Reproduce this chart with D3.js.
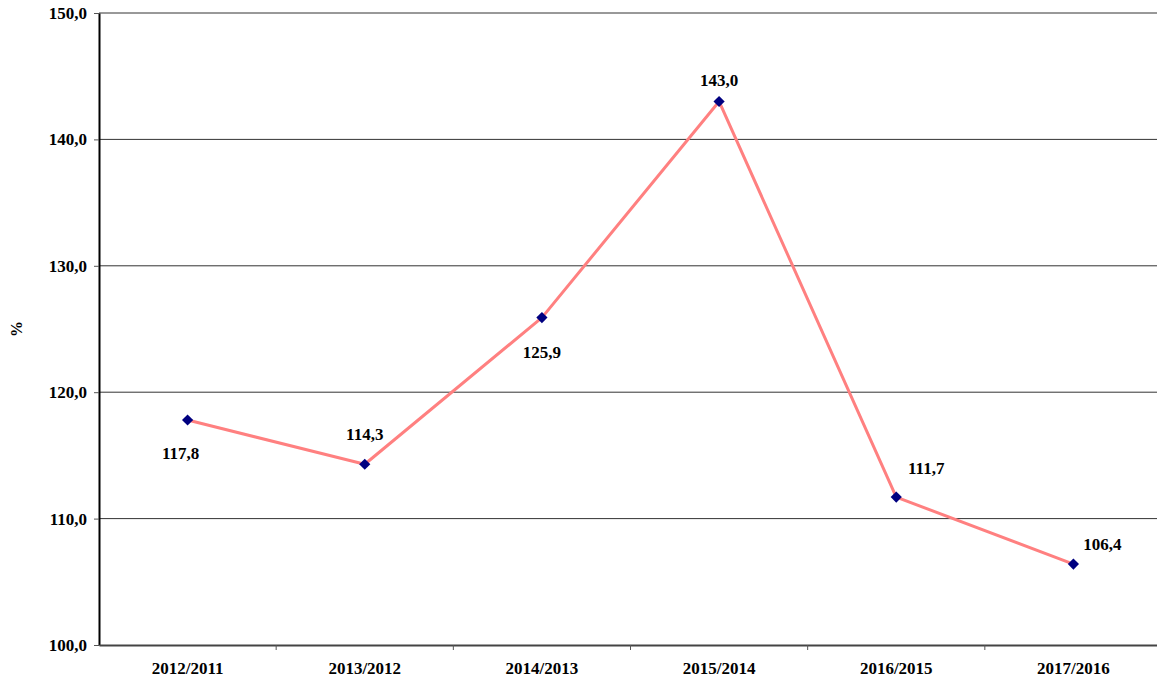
<!DOCTYPE html>
<html>
<head>
<meta charset="utf-8">
<script src="https://cdn.jsdelivr.net/npm/d3@7"></script>
<style>
  body { margin: 0; background: #fff; overflow: hidden; }
  svg { display: block; }
  text { font-family: "Liberation Serif", "Times New Roman", serif; font-weight: bold; }
</style>
</head>
<body>
<svg id="chart"></svg>
<script>
const categories = ['2012/2011', '2013/2012', '2014/2013', '2015/2014', '2016/2015', '2017/2016'];
const values = [117.8, 114.3, 125.9, 143.0, 111.7, 106.4];
const yTicks = [100, 110, 120, 130, 140, 150];
// label offsets relative to point (dx, dy)
const labelOffsets = [[-7, 33], [0, -30], [0, 34], [0, -21], [30, -29], [29, -20]];

const width = 1157;
const height = 684;
const margin = { top: 13, left: 99, bottom: 39, right: -5 };
const innerWidth = width - margin.left - margin.right;
const innerHeight = height - margin.top - margin.bottom;

const svg = d3.select('#chart')
  .attr('width', width)
  .attr('height', height);

const g = svg.append('g')
  .attr('transform', `translate(${margin.left}, ${margin.top})`);

const xScale = d3.scaleBand().domain(categories).range([0, innerWidth]);
const yScale = d3.scaleLinear().domain([100, 150]).range([innerHeight, 0]);
const fmt = d => d3.format('.1f')(d).replace('.', ',');

// gridlines
g.append('g')
  .selectAll('line')
  .data(yTicks.filter(d => d > 100))
  .join('line')
  .attr('x1', 0)
  .attr('x2', innerWidth)
  .attr('y1', d => yScale(d))
  .attr('y2', d => yScale(d))
  .attr('stroke', '#333')
  .attr('stroke-width', 1);

// y axis
const yAxis = g.append('g')
  .call(d3.axisLeft(yScale)
          .tickValues(yTicks)
          .tickFormat(fmt)
          .tickSize(5)
          .tickSizeOuter(0));
yAxis.select('.domain').attr('stroke', '#000').attr('stroke-width', 2);
yAxis.selectAll('.tick line').attr('stroke', '#555');
yAxis.selectAll('.tick text')
  .attr('x', -12)
  .attr('fill', '#000')
  .style('font-size', '17px');

// x axis
const xAxis = g.append('g')
  .attr('transform', `translate(0, ${innerHeight})`)
  .call(d3.axisBottom(xScale).tickSize(0).tickSizeOuter(0));
xAxis.select('.domain').attr('stroke', '#444').attr('stroke-width', 2);
xAxis.selectAll('.tick text')
  .attr('y', 17)
  .attr('fill', '#000')
  .style('font-size', '17px');
xAxis.append('g')
  .selectAll('line')
  .data(categories.slice(1))
  .join('line')
  .attr('x1', d => xScale(d))
  .attr('x2', d => xScale(d))
  .attr('y1', 0)
  .attr('y2', 5)
  .attr('stroke', '#555');

// y title
svg.append('text')
  .attr('transform', `translate(22, ${margin.top + innerHeight / 2}) rotate(-90)`)
  .attr('text-anchor', 'middle')
  .style('font-size', '16px')
  .text('%');

const cx = (d, i) => xScale(categories[i]) + xScale.bandwidth() / 2;

const line = d3.line()
  .x(cx)
  .y(d => yScale(d));

g.append('path')
  .datum(values)
  .attr('fill', 'none')
  .attr('stroke', '#ff8080')
  .attr('stroke-width', 3)
  .attr('stroke-linejoin', 'round')
  .attr('d', line);

g.selectAll('.marker')
  .data(values)
  .join('path')
  .attr('class', 'marker')
  .attr('transform', (d, i) => `translate(${cx(d, i)}, ${yScale(d)})`)
  .attr('d', d3.symbol().type(d3.symbolDiamond2).size(80))
  .attr('fill', '#000080');

g.selectAll('.label')
  .data(values)
  .join('text')
  .attr('class', 'label')
  .attr('x', (d, i) => cx(d, i) + labelOffsets[i][0])
  .attr('y', (d, i) => yScale(d) + labelOffsets[i][1])
  .attr('dy', '0.35em')
  .attr('text-anchor', 'middle')
  .style('font-size', '17px')
  .text(fmt);
</script>
</body>
</html>
